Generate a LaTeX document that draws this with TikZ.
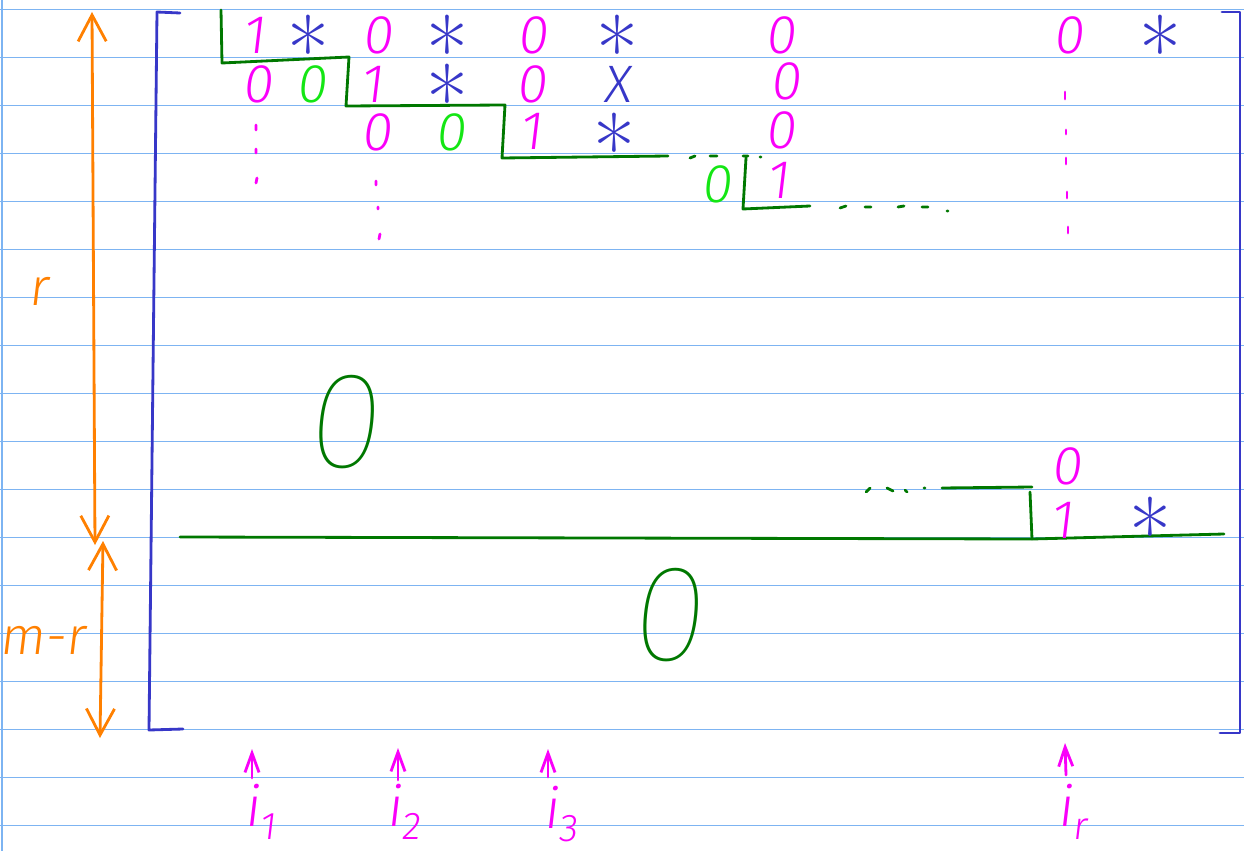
\documentclass[tikz,border=0pt]{standalone}
\usepackage{fontspec}
\newfontfamily\hand[FakeSlant=0.12]{Fira Sans Light}
\newfontfamily\handbig[FakeSlant=0.1]{Fira Sans Thin}
\usetikzlibrary{arrows.meta}
\definecolor{mag}{RGB}{250,0,250}
\definecolor{blu}{RGB}{55,55,200}
\definecolor{dgr}{RGB}{0,120,0}
\definecolor{lgr}{RGB}{20,230,20}
\definecolor{org}{RGB}{255,128,0}
\definecolor{rulec}{RGB}{125,180,242}
\newcommand{\ix}[1]{i\raisebox{-0.22em}{\fontsize{22}{22}\selectfont #1}}
\newcommand{\astr}{\raisebox{-0.535em}{*}}
\begin{document}
\begin{tikzpicture}[x=0.02cm,y=-0.02cm,
  ent/.style={inner sep=0pt, font=\fontsize{31}{31}\selectfont\hand},
  pm/.style={ent, text=mag},
  pg/.style={ent, text=lgr},
  st/.style={inner sep=0pt, text=blu, text height=11.5pt, text depth=11.5pt, font=\fontsize{52}{52}\selectfont},
  big/.style={inner sep=0pt, text=dgr, font=\fontsize{78}{78}\selectfont\handbig},
  pen/.style={line width=1.6pt, line cap=round, line join=round},
  lab/.style={inner sep=0pt, text=mag, font=\fontsize{32}{32}\selectfont\hand},
  olab/.style={inner sep=0pt, text=org, font=\fontsize{30}{30}\selectfont\hand},
  barb/.style={-{Straight Barb[length=11pt,width=8pt]}},
  obarb/.style={{Straight Barb[length=15pt,width=16pt]}-{Straight Barb[length=15pt,width=16pt]}}
]
\useasboundingbox (0,0) rectangle (1244,851);
\fill[white] (0,0) rectangle (1244,851);
% ruled paper
\foreach \k in {0,...,17} \draw[rulec, line width=0.8pt] (0,{9.5+48*\k}) -- (1244,{9.5+48*\k});
\draw[rulec, line width=1pt] (2,0) -- (2,851);

% matrix brackets
\draw[blu, pen] (180,13) -- (157,12) -- (149,730) -- (183,729);
\draw[blu, pen] (1222,12) -- (1240,12) -- (1240,733) -- (1220,733);

% orange dimension arrows
\coordinate (rt) at (92,12);
\coordinate (rb) at (95,545);
\coordinate (mt) at (103,541);
\coordinate (mb) at (100,738);
\draw[org, pen, obarb] (rt) -- (rb);
\draw[org, pen, obarb] (mt) -- (mb);
\node[olab] (lr) at (38,291) {r};
\node[olab] (lmr) at (42,640) {m-r};

% green staircase
\draw[dgr, pen] (221,10) -- (222,63) -- (349,57) -- (346,106) -- (505,105) -- (502,158) -- (668,156);
\draw[dgr, pen] (690,158) -- (695,156) (710,156) -- (717,156) (760,157) -- (761,157);
\draw[dgr, pen] (743,156) -- (748,156) (746,158) -- (743,209) -- (810,206);
\draw[dgr, pen] (840,208) -- (846,206) (865,207) -- (871,207) (898,207) -- (904,206) (922,207) -- (928,207) (947,211) -- (948,211);
\draw[dgr, pen] (866,492) -- (870,488) (887,488) -- (893,491) (905,490) -- (907,492) (924,488) -- (925,488);
\draw[dgr, pen] (942,488) -- (1032,487);
\draw[dgr, pen] (1030,492) -- (1032,539);
\draw[dgr, pen] (180,537) -- (1032,539) -- (1224,534);

% row 1
\node[pm] (a11) at (254,35) {1};
\node[st] (a12) at (308,35) {\astr};
\node[pm] (a13) at (377,35) {0};
\node[st] (a14) at (447,35) {\astr};
\node[pm] (a15) at (532,35) {0};
\node[st] (a16) at (617,35) {\astr};
\node[pm] (a17) at (780,35) {0};
\node[pm] (a18) at (1068,35) {0};
\node[st] (a19) at (1160,35) {\astr};
% row 2
\node[pm] (a21) at (257,84) {0};
\node[pg] (a22) at (311,84) {0};
\node[pm] (a23) at (372,84) {1};
\node[st] (a24) at (447,84) {\astr};
\node[pm] (a25) at (531,84) {0};
\node[inner sep=0pt, text=blu, font=\fontsize{30}{30}\selectfont\hand] (a26) at (617,84) {X};
\node[pm] (a27) at (785,81) {0};
% row 3
\node[pm] (a33) at (376,132) {0};
\node[pg] (a34) at (450,132) {0};
\node[pm] (a35) at (531,131) {1};
\node[st] (a36) at (614,133) {\astr};
\node[pm] (a37) at (780,130) {0};
% row 4
\node[pg] (a44) at (716,184) {0};
\node[pm] (a45) at (778,180) {1};
% last pivot rows
\node[pm] (ar0) at (1066,466) {0};
\node[pm] (ar1) at (1062,520) {1};
\node[st] (ar2) at (1150,517) {\astr};

% vertical dots
\draw[mag, pen] (256,125) -- (256,130) (256,149) -- (256,153) (257,178) -- (256,183);
\draw[mag, pen] (376,181) -- (376,185) (378,207) -- (378,209) (380,234) -- (379,239);
\draw[mag, pen] (1065,92) -- (1065,99) (1066,130) -- (1066,134) (1066,158) -- (1066,164) (1067,192) -- (1067,198) (1068,227) -- (1068,233);

% big zero blocks
\node[big] (z1) at (343,422) {0};
\node[big] (z2) at (667,615) {0};

% column markers
\coordinate (c1b) at (252,778); \coordinate (c1t) at (252,749);
\coordinate (c2b) at (398,780); \coordinate (c2t) at (398,748);
\coordinate (c3b) at (548,777); \coordinate (c3t) at (548,749);
\coordinate (c4b) at (1066,775); \coordinate (c4t) at (1065,743);
\draw[mag, pen, barb] (c1b) -- (c1t);
\draw[mag, pen, barb] (c2b) -- (c2t);
\draw[mag, pen, barb] (c3b) -- (c3t);
\draw[mag, pen, barb] (c4b) -- (c4t);
\node[lab] (i1) at (260,812) {\ix{1}};
\node[lab] (i2) at (403,812) {\ix{2}};
\node[lab] (i3) at (560,814) {\ix{3}};
\node[lab] (ir) at (1072,812) {\ix{r}};
\end{tikzpicture}
\end{document}
